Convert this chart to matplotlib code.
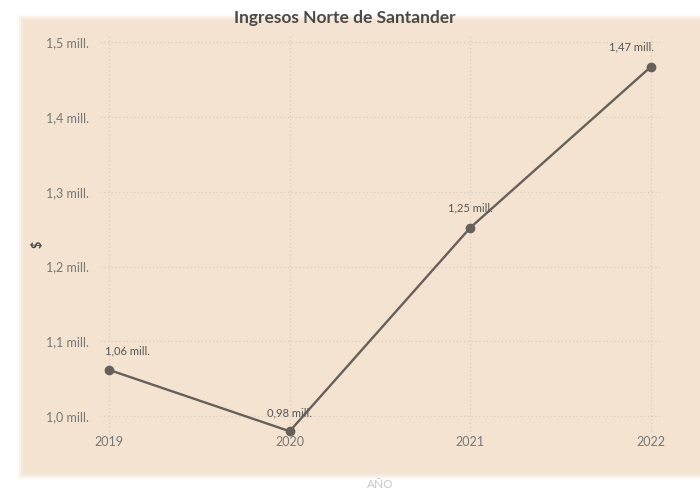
import matplotlib
matplotlib.use("Agg")
import matplotlib.pyplot as plt
from matplotlib.patches import Rectangle

years = ["2019", "2020", "2021", "2022"]
values = [1.062, 0.98, 1.252, 1.467]
labels = ["1,06 mill.", "0,98 mill.", "1,25 mill.", "1,47 mill."]
yticks = [1.0, 1.1, 1.2, 1.3, 1.4, 1.5]
yticklabels = ["1,0 mill.", "1,1 mill.", "1,2 mill.", "1,3 mill.", "1,4 mill.", "1,5 mill."]

plt.rcParams['font.family'] = ['Lato', 'DejaVu Sans']

W, H = 700, 488
fig = plt.figure(figsize=(W/100, H/100), dpi=100, facecolor="white")

# beige panel with soft edge
panel = "#F4E3D0"
for i, a in enumerate([0.15, 0.3, 0.5, 0.75, 1.0]):
    d = (4 - i) * 2
    fig.patches.append(Rectangle(((25 - d)/W, 1 - (472 + d)/H), (700 - 25 + 2*d)/W, (450 + 2*d)/H,
                                 transform=fig.transFigure, facecolor=panel, edgecolor="none",
                                 alpha=a, zorder=-10))

ax = fig.add_axes([100/W, 1 - 435/H, 560/W, (435 - 34.5)/H])
ax.set_zorder(5)
ax.set_facecolor("none")
x = list(range(len(years)))
ax.set_xlim(-0.05, 3.05)
ax.set_ylim(0.975, 1.51)

ax.plot(x, values, color="#67605A", lw=1.7, marker="o", ms=6, zorder=3, clip_on=False)

ax.set_yticks(yticks)
ax.set_yticklabels(yticklabels)
ax.set_xticks(x)
ax.set_xticklabels(years)
ax.tick_params(axis="both", length=0, labelsize=9, labelcolor="#777777")
ax.tick_params(axis="y", pad=8)
ax.tick_params(axis="x", pad=1)
for s in ax.spines.values():
    s.set_visible(False)
ax.grid(True, color="#D9CDBF", linestyle=(0, (1, 2)), lw=0.9)

offsets = [(13, 10), (0, 9), (0, 10), (-14, 10)]
for xi, v, lab, off in zip(x, values, labels, offsets):
    ax.annotate(lab, (xi, v), xytext=off, textcoords="offset points", ha="center", va="bottom",
                fontsize=8, color="#555555", zorder=4, annotation_clip=False)

fig.text(38/W, 1 - 244/H, "$", fontsize=9, color="#444444", ha="center", va="center", rotation=90,
         fontweight="bold", zorder=6)
fig.text(345/W, 1 - 18/H, "Ingresos Norte de Santander", fontsize=12.5, fontweight="bold",
         color="#4A4A4A", ha="center", va="center", zorder=6)
fig.text(380/W, 1 - 484/H, "AÑO", fontsize=8.5, color="#C8C8C8", ha="center", va="center", zorder=6)

fig.savefig("out.png", dpi=100, facecolor="white")
